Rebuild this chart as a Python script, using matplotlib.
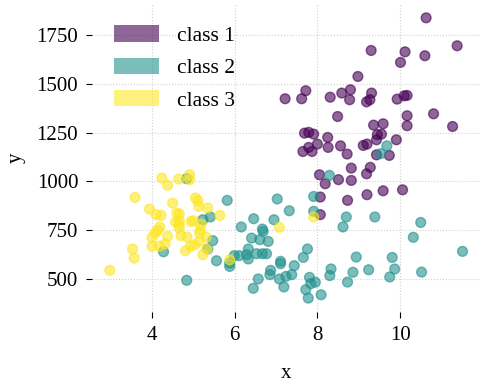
import matplotlib
matplotlib.use('Agg')
import matplotlib.pyplot as plt
import matplotlib.patches as mpatches
import numpy as np

plt.rcParams['font.family'] = ['Liberation Serif', 'DejaVu Serif']
plt.rcParams['font.size'] = 15

# class 1 (purple)
x1 = [10.63, 11.38, 9.30, 10.12, 10.60, 10.01, 8.98, 7.72, 8.80, 8.59,
      9.31, 7.22, 7.62, 8.31, 8.78, 9.19, 9.27, 9.93, 10.10, 10.17,
      8.49, 10.17, 10.81, 10.17, 11.27, 9.36, 9.59, 7.69, 7.79, 7.91,
      8.25, 9.45, 9.55, 9.91, 9.43, 7.65, 7.79, 7.87, 8.00, 8.26,
      8.56, 9.11, 9.20, 8.72, 9.43, 9.74, 8.82, 9.28, 8.05, 9.19,
      8.19, 8.51, 8.82, 9.59, 10.06, 9.20, 8.07, 8.73, 8.07]
y1 = [1837, 1694, 1670, 1663, 1643, 1609, 1537, 1464, 1469, 1452,
      1452, 1423, 1423, 1431, 1418, 1407, 1418, 1421, 1438, 1440,
      1332, 1336, 1346, 1285, 1281, 1288, 1295, 1247, 1251, 1242,
      1225, 1239, 1242, 1213, 1213, 1153, 1174, 1153, 1191, 1174,
      1182, 1184, 1191, 1140, 1136, 1133, 1068, 1072, 1034, 1039,
      988, 1009, 1005, 952, 957, 932, 920, 903, 830]

# class 2 (teal)
x2 = [11.51, 10.50, 10.32, 10.52, 9.81, 9.87, 9.75, 9.39, 9.24, 8.94,
      8.86, 8.73, 8.70, 8.62, 8.33, 8.30, 8.09, 7.95, 7.84, 7.81,
      7.78, 7.72, 7.66, 7.76, 7.91, 7.91, 8.29, 9.68, 9.53, 7.44,
      7.38, 7.24, 7.19, 7.11, 7.11, 7.08, 6.87, 6.85, 7.03, 7.32,
      6.95, 6.81, 6.77, 6.67, 6.53, 6.67, 6.69, 6.61, 6.46, 6.41,
      6.33, 6.33, 6.29, 6.16, 6.11, 5.99, 5.88, 5.88, 5.82, 5.56,
      5.47, 5.41, 5.23, 5.35, 6.57, 6.45, 4.84, 4.28, 4.84]
y2 = [642, 790, 714, 536, 611, 552, 511, 818, 548, 613,
      535, 485, 818, 767, 552, 518, 420, 484, 477, 509,
      403, 446, 611, 654, 923, 847, 1031, 1182, 1142, 569,
      523, 514, 460, 591, 579, 501, 545, 523, 910, 850,
      804, 693, 630, 630, 630, 756, 744, 702, 809, 710,
      654, 603, 625, 767, 620, 620, 582, 565, 903, 594,
      697, 818, 804, 654, 501, 453, 494, 640, 1014]

# class 3 (yellow)
x3 = [2.98, 3.53, 3.57, 3.59, 3.94, 4.00, 4.00, 4.08, 4.14, 4.19,
      4.10, 4.22, 4.18, 4.24, 4.38, 4.32, 4.38, 4.50, 4.60, 4.66,
      4.57, 4.66, 4.66, 4.66, 4.70, 4.65, 4.91, 4.91, 4.85, 4.81,
      4.93, 5.03, 4.95, 5.00, 5.05, 5.11, 5.13, 5.19, 5.17, 5.15,
      5.15, 5.31, 5.33, 5.23, 5.35, 5.64, 5.88, 7.08, 7.91]
y3 = [545, 654, 608, 918, 859, 714, 668, 736, 749, 767,
      830, 826, 668, 1017, 980, 680, 719, 889, 838, 833,
      792, 799, 778, 761, 722, 1012, 1034, 1009, 715, 645,
      668, 676, 795, 799, 915, 901, 872, 782, 753, 736,
      693, 715, 654, 625, 864, 826, 599, 765, 818]

labels = ['class 1', 'class 2', 'class 3']

x = np.array(x1 + x2 + x3)
y = np.array(y1 + y2 + y3)
c = np.array([0] * len(x1) + [1] * len(x2) + [2] * len(x3))

fig, ax = plt.subplots(figsize=(4.85, 3.82), dpi=100)
ax.scatter(x, y, c=c, cmap='viridis', alpha=0.6, s=50, zorder=3)

cmap = plt.get_cmap('viridis')
handles = [mpatches.Patch(facecolor=cmap(i / 2), edgecolor='none', alpha=0.6, label=labels[i])
           for i in range(3)]
ax.legend(handles=handles, loc='upper left', frameon=False, handlelength=2.1,
          handleheight=0.78, labelspacing=0.55, handletextpad=0.85,
          borderaxespad=0.6, fontsize=15.5)

ax.set_xlabel('x', labelpad=14)
ax.set_ylabel('y', labelpad=8)
ax.set_xticks([4, 6, 8, 10])
ax.set_yticks([500, 750, 1000, 1250, 1500, 1750])
ax.tick_params(length=4, pad=6)
ax.grid(True, linestyle=':', color='#d0d0d0', linewidth=0.8)
ax.set_axisbelow(True)
for s in ax.spines.values():
    s.set_visible(False)

fig.subplots_adjust(left=0.19, right=0.99, top=0.99, bottom=0.183)
fig.savefig('out.png', dpi=100)
